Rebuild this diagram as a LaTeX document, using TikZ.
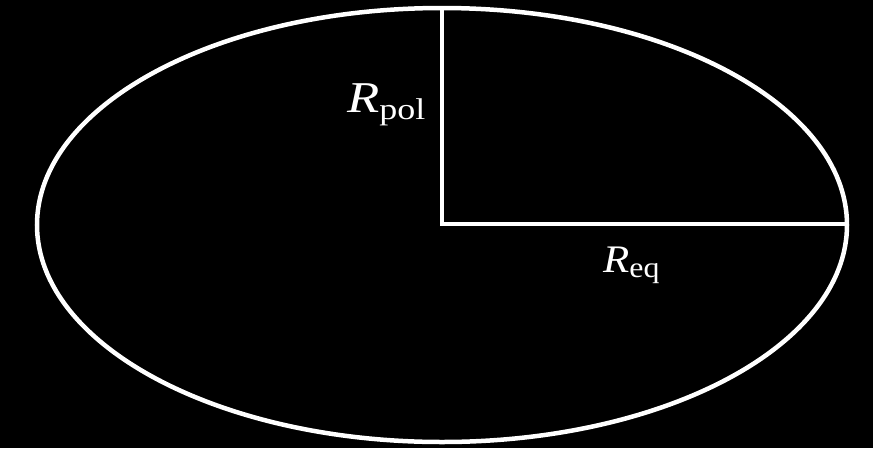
\documentclass[tikz,border=0pt]{standalone}
\usepackage{fontspec}
\setmainfont{Liberation Serif}
\begin{document}
\begin{tikzpicture}[x=1pt,y=-1pt,
  axisline/.style={draw=white,line width=4.5pt},
  lbl/.style={text=white,inner sep=0pt,anchor=base west}]
\useasboundingbox[fill=black] (0,0) rectangle (873,448);
\coordinate (C) at (442,225);
\coordinate (O) at (442,224);
\coordinate (T) at (442,8);
\coordinate (E) at (847,224);
\draw[white,line width=4.5pt] (C) ellipse [x radius=405, y radius=217];
\draw[axisline] (T) -- (O.center) -- (E);
\node[lbl,xscale=1.2] (rpol) at (347,112) {\fontsize{44}{48}\selectfont\itshape R\raisebox{-7pt}{\fontsize{30}{32}\upshape pol}};
\node[lbl,xscale=1.1] (req) at (603,272) {\fontsize{39}{44}\selectfont\itshape R\raisebox{-5pt}{\fontsize{29}{32}\upshape eq}};
\end{tikzpicture}
\end{document}
